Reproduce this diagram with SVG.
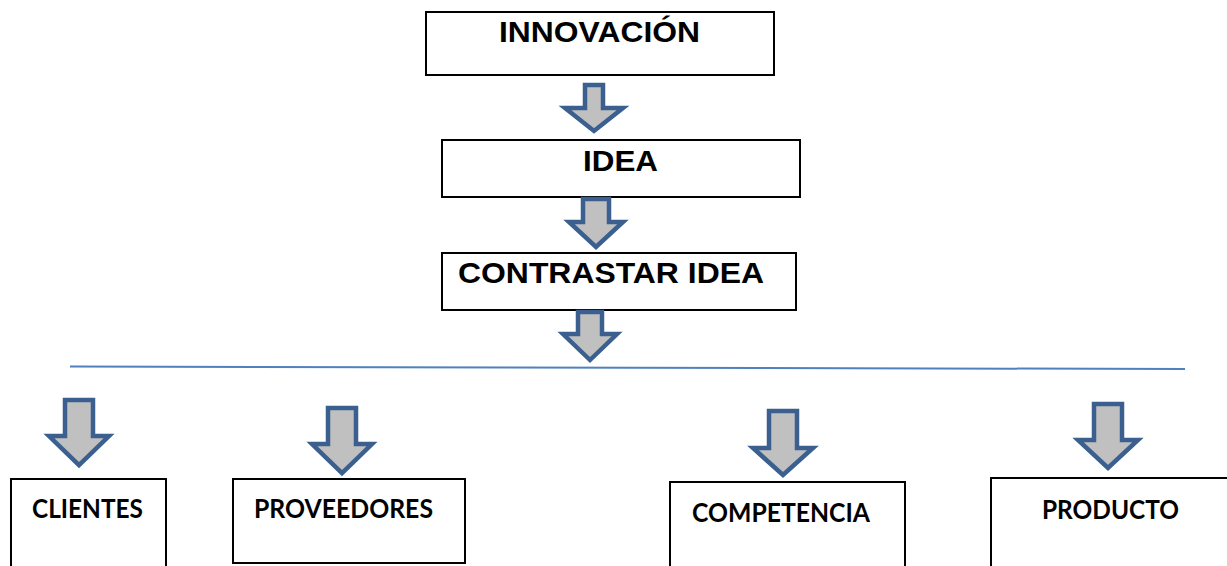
<svg xmlns="http://www.w3.org/2000/svg" width="1227" height="566" viewBox="0 0 1227 566">
<defs>
<style>
.box{fill:#ffffff;stroke:#000000;stroke-width:2}
.arr{fill:#c0c0c0;stroke:#3b6090;stroke-width:4.5;stroke-linejoin:miter}
.t1{font-family:"Liberation Sans",Arial,sans-serif;font-weight:bold;font-size:30px;fill:#000}
.t2{font-family:Lato,"Open Sans",sans-serif;font-weight:bold;font-size:26px;fill:#000}
.line{stroke:#4f81bd;stroke-width:2;fill:none}
</style>
</defs>
<rect width="1227" height="566" fill="#ffffff"/>
<g id="node-innovacion">
<rect class="box" x="426" y="12" width="348" height="63"/>
<text class="t1" x="499" y="42" textLength="201" lengthAdjust="spacingAndGlyphs">INNOVACIÓN</text>
</g>
<g id="node-idea">
<rect class="box" x="442" y="140" width="358" height="57"/>
<text class="t1" x="583" y="171" textLength="75" lengthAdjust="spacingAndGlyphs">IDEA</text>
</g>
<g id="node-contrastar">
<rect class="box" x="442" y="253" width="354" height="57"/>
<text class="t1" x="458" y="283" textLength="306" lengthAdjust="spacingAndGlyphs">CONTRASTAR IDEA</text>
</g>
<g id="node-clientes">
<rect class="box" x="11" y="479" width="155" height="100"/>
<text class="t2" x="32" y="518" textLength="111" lengthAdjust="spacingAndGlyphs">CLIENTES</text>
</g>
<g id="node-proveedores">
<rect class="box" x="233" y="479" width="232" height="84"/>
<text class="t2" x="254" y="518" textLength="179" lengthAdjust="spacingAndGlyphs">PROVEEDORES</text>
</g>
<g id="node-competencia">
<rect class="box" x="670" y="482" width="235" height="100"/>
<text class="t2" x="692" y="522" textLength="178" lengthAdjust="spacingAndGlyphs">COMPETENCIA</text>
</g>
<g id="node-producto">
<rect class="box" x="991" y="478" width="250" height="100"/>
<text class="t2" x="1042" y="519" textLength="137" lengthAdjust="spacingAndGlyphs">PRODUCTO</text>
</g>
<g id="connectors">
<line class="line" x1="70" y1="366.5" x2="1185" y2="369"/>
<path class="arr" d="M585 85 H603 V108 H623 L594 131 L565 108 H585 Z"/>
<path class="arr" d="M583 199 H609 V222 H623 L596 247 L569 222 H583 Z"/>
<path class="arr" d="M578 312 H602 V334 H617 L590 360 L563 334 H578 Z"/>
<path class="arr" d="M65 400 H93 V436 H109 L79 465 L49 436 H65 Z"/>
<path class="arr" d="M328 408 H356 V444 H372 L342 473 L312 444 H328 Z"/>
<path class="arr" d="M769 411 H797 V448 H813 L783 475 L753 448 H769 Z"/>
<path class="arr" d="M1094 404 H1122 V440 H1138 L1108 468 L1078 440 H1094 Z"/>
</g>
</svg>
